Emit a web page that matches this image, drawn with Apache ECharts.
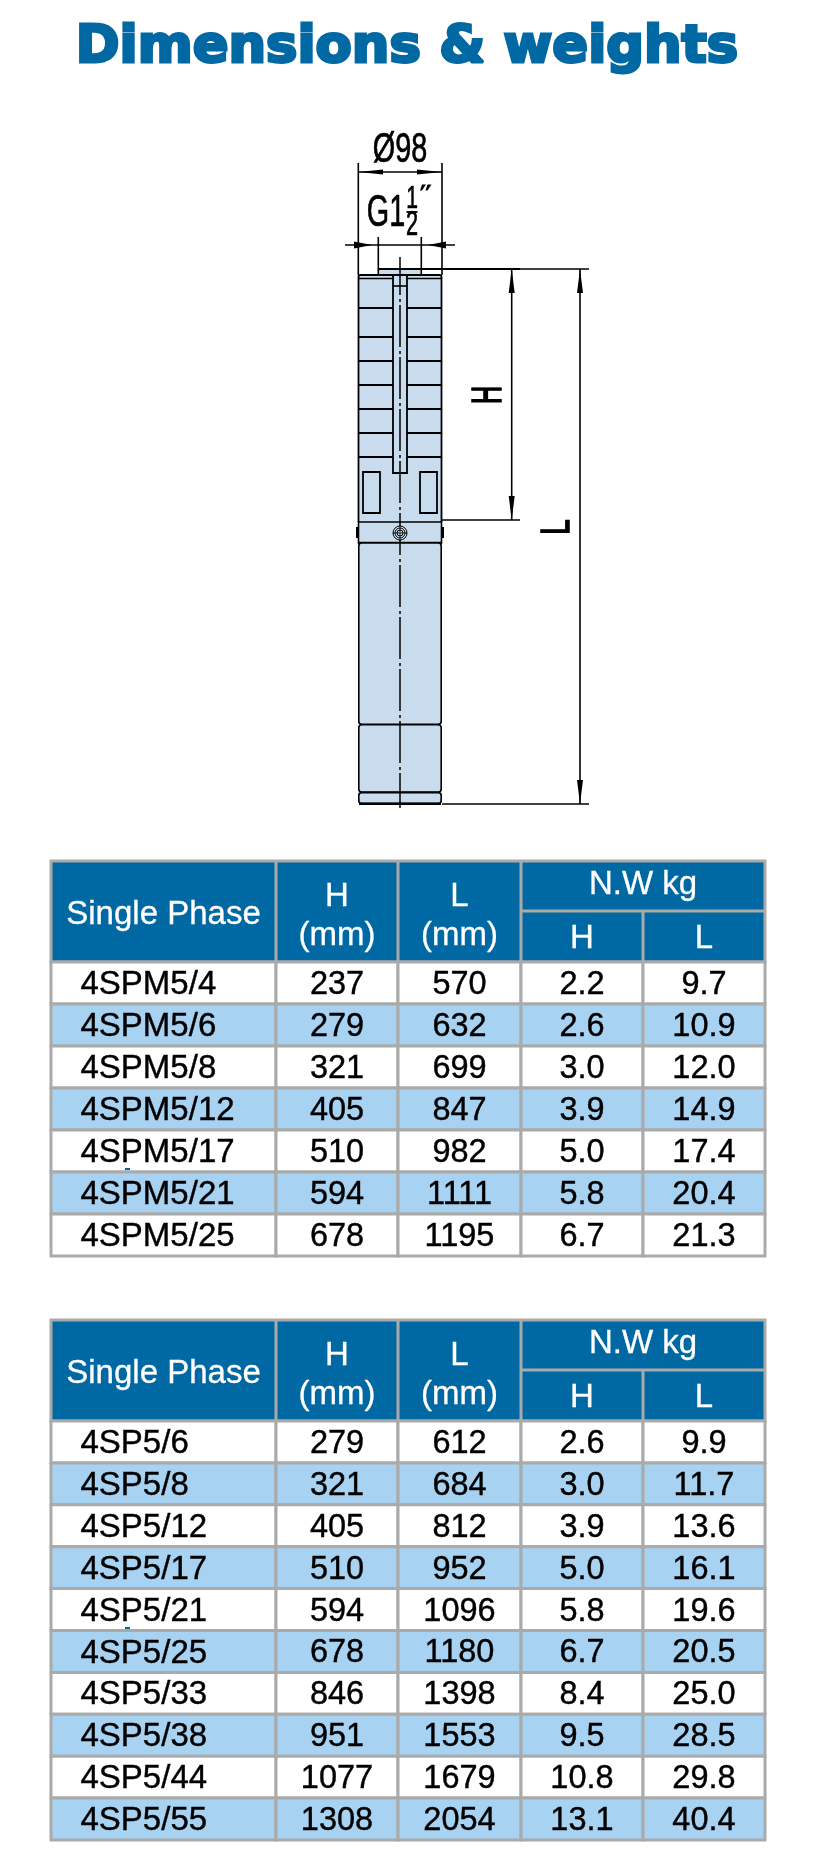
<!DOCTYPE html>
<html><head><meta charset="utf-8">
<style>html,body{margin:0;padding:0;background:#fff}#c{width:820px;height:1866px}</style>
<script src="https://cdn.jsdelivr.net/npm/echarts@6/dist/echarts.min.js"></script>
</head><body><div id="c"></div>
<script>
// ---- data ----
const title = 'Dimensions & weights';
const phaseLabel = 'Single Phase';
const models1 = ['4SPM5/4','4SPM5/6','4SPM5/8','4SPM5/12','4SPM5/17','4SPM5/21','4SPM5/25'];
const h1   = [237,279,321,405,510,594,678];
const l1   = [570,632,699,847,982,1111,1195];
const nwH1 = ['2.2','2.6','3.0','3.9','5.0','5.8','6.7'];
const nwL1 = ['9.7','10.9','12.0','14.9','17.4','20.4','21.3'];
const models2 = ['4SP5/6','4SP5/8','4SP5/12','4SP5/17','4SP5/21','4SP5/25','4SP5/33','4SP5/38','4SP5/44','4SP5/55'];
const h2   = [279,321,405,510,594,678,846,951,1077,1308];
const l2   = [612,684,812,952,1096,1180,1398,1553,1679,2054];
const nwH2 = ['2.6','3.0','3.9','5.0','5.8','6.7','8.4','9.5','10.8','13.1'];
const nwL2 = ['9.9','11.7','13.6','16.1','19.6','20.5','25.0','28.5','29.8','40.4'];

// ---- layout ----
const BLUE='#0068a3', ROW='#a8d2f1', BORDER='#aaaaaa', FILL='#c8dcee', FONT='"Liberation Sans",Arial,sans-serif';
const edges=[51,276,398,521,643,765];          // column edges (px on the page)
const T1={top:861,head:962,bottom:1256}, T2={top:1320,head:1421,bottom:1840};

const gfx=[];
const line=(x1,y1,x2,y2,w=1.6,extra={})=>gfx.push({type:'line',silent:true,shape:{x1,y1,x2,y2},style:Object.assign({stroke:'#000',lineWidth:w},extra)});
const rect=(x,y,w,h,fill,stroke,lw=1.6,r=0)=>gfx.push({type:'rect',silent:true,shape:{x,y,width:w,height:h,r},style:{fill:fill||'transparent',stroke:stroke||'transparent',lineWidth:lw}});
const poly=(pts)=>gfx.push({type:'polygon',silent:true,shape:{points:pts},style:{fill:'#000'}});
const text=(t,x,y,size,o={})=>gfx.push(Object.assign({type:'text',silent:true,x,y,style:{text:t,x:0,y:0,fill:o.fill||'#000',font:(o.weight||'normal')+' '+size+'px '+(o.family||FONT),textAlign:o.align||'center',textVerticalAlign:'middle',stroke:o.stroke||null,lineWidth:o.sw||0}},o.tf||{}));

// title
text(title,407,48,52,{fill:BLUE,weight:'bold',family:'"DejaVu Sans",sans-serif',stroke:BLUE,sw:3,tf:{scaleX:1.015}});

// headers
function header(T){
  const mid=T.top+50;
  rect(edges[0],T.top,edges[5]-edges[0],T.head-T.top,BLUE,BORDER,3);
  line(edges[1],T.top,edges[1],T.head,3,{stroke:BORDER});
  line(edges[2],T.top,edges[2],T.head,3,{stroke:BORDER});
  line(edges[3],T.top,edges[3],T.head,3,{stroke:BORDER});
  line(edges[3],mid,edges[5],mid,3,{stroke:BORDER});
  line(edges[4],mid,edges[4],T.head,3,{stroke:BORDER});
  const c={fill:'#fff',stroke:'#fff',sw:0.3};
  text(phaseLabel,163.5,T.top+54,33,c);
  text('H',337,T.top+36,33,c); text('(mm)',337,T.top+75,33,c);
  text('L',459.5,T.top+36,33,c); text('(mm)',459.5,T.top+75,33,c);
  text('N.W kg',643,T.top+24,33,c);
  text('H',582,T.top+78,33,c); text('L',704,T.top+78,33,c);
}
header(T1); header(T2);

// pump drawing
rect(378,269,43,6,FILL);
rect(358.5,275,83,528,FILL);
line(378.3,237,378.3,275); line(421.3,237,421.3,275);
line(358.3,163,358.3,275); line(442,163,442,275);
line(358,172,442,172);
poly([[358.5,172],[383,169.5],[383,174.5]]); poly([[441.8,172],[417,169.5],[417,174.5]]);
line(345,245,455,245);
poly([[354,241.5],[372,245],[354,248.5]]); poly([[446,241.5],[428,245],[446,248.5]]);
line(378,269,520,269,2.2); line(520,269,589,269,1.5);
rect(358.5,275,83,248,null,'#000',1.8,2);
line(358.5,278.5,441.5,278.5,1.6);
[308,337,361,385,409,433,457].forEach(y=>{line(358.5,y,393,y,1.8);line(407,y,441.5,y,1.8);});
rect(393,275,14,198,FILL,'#000',1.8);
line(393,286,407,286,1.6);
rect(363,472,17,41,null,'#000',1.8); rect(420,472,17,41,null,'#000',1.8);
rect(358.5,522,83,21,FILL,'#000',1.6);
line(358,543,442,543,2.4);
rect(356,527,3,11,'#000'); rect(441,527,3,11,'#000');
rect(358.8,543,82.4,181.2,FILL,'#000',1.6,3);
rect(358.8,724.8,82.4,67.2,FILL,'#000',1.6,3);
rect(358.8,792.6,82.4,10.9,FILL,'#000',1.6,3);
line(359,803.8,441,803.8,2.4);
// centre line
line(400,257,400,808,1.5,{lineDash:[42,4,3,3],lineDashOffset:4});
[7,5,3].forEach(r=>gfx.push({type:'circle',silent:true,shape:{cx:400,cy:533,r},style:{fill:r==7?FILL:'transparent',stroke:'#000',lineWidth:1}}));
line(393,533,407,533,.8); line(400,526,400,540,.8);
// H and L dimensions
line(442,520,520,520); line(442,804,589,804);
line(511.7,269,511.7,520); line(580,269,580,804);
poly([[511.7,269],[508.7,293],[514.7,293]]); poly([[511.7,520],[508.7,496],[514.7,496]]);
poly([[580,269],[577,293],[583,293]]); poly([[580,804],[577,780],[583,780]]);
// labels
const ink={stroke:'#000',sw:0.7};
text('Ø98',400,150,43,{...ink,tf:{scaleX:0.67}});
text('G1',386,214,45,{...ink,tf:{scaleX:0.64}});
text('1',412,199.5,32,{...ink,tf:{scaleX:0.66}});
line(406.5,212,417.5,212,1.8);
text('2',412,225.5,35,{...ink,tf:{scaleX:0.62}});
poly([[422,184.5],[426,184.5],[422,190.5],[420,190.5]]); poly([[427.5,184.5],[431.5,184.5],[427.5,190.5],[425.5,190.5]]);
text('H',489,395,42,{stroke:'#000',sw:1.6,tf:{rotation:Math.PI/2,scaleX:0.6}});
text('L',558,527,41,{stroke:'#000',sw:1.6,tf:{rotation:Math.PI/2,scaleX:0.68}});

// table bodies through the library
function bodyCell(models,hs,ls,nh,nl){
  return function(params,api){
    const r=api.value(0);
    const s=api.size([0,1]); const rowH=s[1];
    const yc=api.coord([0,r])[1];
    const vals=[models[r],hs[r],ls[r],nh[r],nl[r]];
    const children=[];
    vals.forEach((v,i)=>{
      const a=api.coord([edges[i],r])[0], b=api.coord([edges[i+1],r])[0];
      children.push({type:'rect',shape:{x:a,y:yc-rowH/2,width:b-a,height:rowH},style:{fill:r%2?ROW:'#fff',stroke:BORDER,lineWidth:3}});
    });
    vals.forEach((v,i)=>{
      const a=api.coord([edges[i],r])[0], b=api.coord([edges[i+1],r])[0];
      children.push({type:'text',style:{text:String(v),x:i==0?80.5:(a+b)/2,y:yc+2,fill:'#000',stroke:'#000',lineWidth:0.4,font:(i==0?33:32.5)+'px '+FONT,textAlign:i==0?'left':'center',textVerticalAlign:'middle'}});
    });
    return {type:'group',children};
  };
}
// small print specks in the source image
gfx.push({type:'rect',silent:true,z:20,shape:{x:125,y:1168,width:5,height:2},style:{fill:BLUE}});
gfx.push({type:'rect',silent:true,z:20,shape:{x:125,y:1627,width:5,height:2},style:{fill:BLUE}});

const chart=echarts.init(document.getElementById('c'),null,{renderer:'canvas',width:820,height:1866});
const mkGrid=T=>({left:edges[0],width:edges[5]-edges[0],top:T.head,height:T.bottom-T.head,containLabel:false,show:false});
const mkX=i=>({type:'value',gridIndex:i,min:edges[0],max:edges[5],show:false});
const mkY=(i,m)=>({type:'category',gridIndex:i,data:m,inverse:true,show:false});
const mkS=(i,m,hs,ls,nh,nl)=>({type:'custom',xAxisIndex:i,yAxisIndex:i,silent:true,clip:false,animation:false,encode:{x:1,y:0},
  data:m.map((_,k)=>[k,edges[0]]),renderItem:bodyCell(m,hs,ls,nh,nl)});
chart.setOption({
  animation:false,backgroundColor:'#fff',
  grid:[mkGrid(T1),mkGrid(T2)],
  xAxis:[mkX(0),mkX(1)],
  yAxis:[mkY(0,models1),mkY(1,models2)],
  series:[mkS(0,models1,h1,l1,nwH1,nwL1),mkS(1,models2,h2,l2,nwH2,nwL2)],
  graphic:{elements:gfx}
});
</script></body></html>
